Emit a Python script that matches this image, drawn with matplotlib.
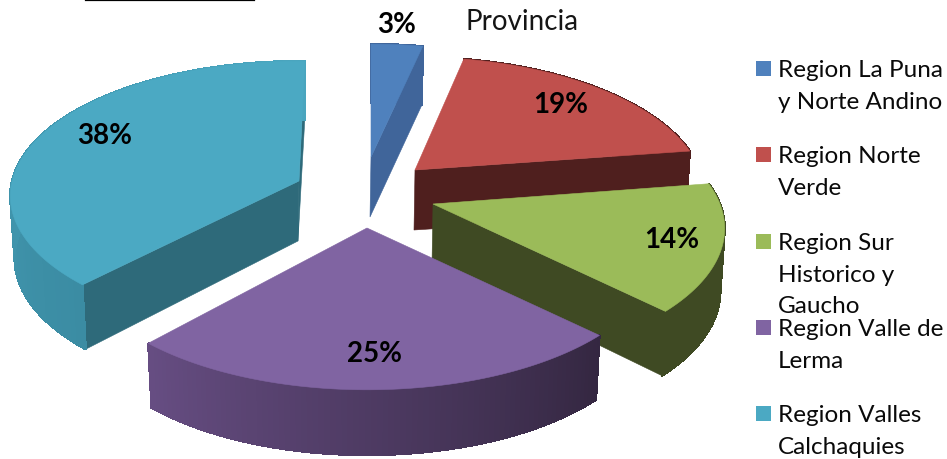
import numpy as np
import matplotlib
matplotlib.use("Agg")
import matplotlib.pyplot as plt
from matplotlib.patches import Polygon, Rectangle
from matplotlib.colors import to_rgb

categories = ["Region La Puna\ny Norte Andino", "Region Norte\nVerde",
              "Region Sur\nHistorico y\nGaucho", "Region Valle de\nLerma",
              "Region Valles\nCalchaquies"]
values = [3, 19, 14, 25, 38]
title_text = "Provincia"

top_colors = ["#4F81BD", "#C0504D", "#9BBB59", "#8064A2", "#4BA9C3"]
wall_colors = ["#40659A", "#4F1F1E", "#3F4A23", "#352843", "#2E6A7A"]
rim_from = ["#40659A", "#4F1F1E", "#3F4A23", "#342741", "#3B8CA3"]
rim_to = ["#40659A", "#4F1F1E", "#3F4A23", "#664D82", "#4AA5BE"]
centers = [(371, 158), (415, 171), (433, 205), (367, 229), (299, 182)]
label_pos = [(397, 25), (561, 105), (672, 240), (375, 354), (105, 136)]
legend_y = [62, 148, 235, 321, 407]
legend_label_y = [60, 146, 233, 319, 405]
# Which radial walls of each slice face the viewer: (start, end)
walls = [(False, True), (False, True), (False, True), (False, False), (True, True)]
draw_order = [0, 1, 4, 2, 3]
# Perspective correction of each slice's edges, in degrees: (start, end)
edge_shift = [(0, 1.3), (0.7, 1.6), (1, 4), (4, -0.5), (2.2, 1.3)]
slice_rx = [287, 285, 287, 287, 287]
slice_k = [0.178, 0.178, 0.178, 0.178, 0.11]

A = 133.0
fig = plt.figure(figsize=(9.47, 4.6), dpi=100)
ax = fig.add_axes([0, 0, 1, 1])
ax.set_xlim(0, 947)
ax.set_ylim(460, 0)
ax.axis("off")


def project(t, center, rx, k, drop=False):
    u, v = np.sin(t), np.cos(t)
    d = 1 + k * v
    x, y = rx * u / d, -A * v / d
    if drop:
        x, y = x * 0.985, y * 0.995 + 62 - 4 * v
    return np.column_stack([center[0] + x, center[1] + y])


edges = np.r_[0, np.cumsum(values)] / np.sum(values) * 360
for i in draw_order:
    c, rx, k = centers[i], slice_rx[i], slice_k[i]
    t0, t1 = np.radians(edges[i] + edge_shift[i][0]), np.radians(edges[i + 1] + edge_shift[i][1])
    ts = np.linspace(t0, t1, 90)
    apex = np.array([c], float)
    apex_low = apex + [-1, 60]
    top = project(ts, c, rx, k)
    low = project(ts, c, rx, k, True)
    if walls[i][0]:
        ax.add_patch(Polygon(np.vstack([apex, top[:1], low[:1], apex_low]), fc=wall_colors[i], ec=wall_colors[i], lw=.4))
    if walls[i][1]:
        ax.add_patch(Polygon(np.vstack([apex, top[-1:], low[-1:], apex_low]), fc=wall_colors[i], ec=wall_colors[i], lw=.4))
    c_a, c_b = np.array(to_rgb(rim_from[i])), np.array(to_rgb(rim_to[i]))
    ax.add_patch(Polygon(np.vstack([top, low[::-1]]), fc=rim_from[i], ec="none"))
    for j in range(len(ts) - 1):
        col = c_a + (c_b - c_a) * j / (len(ts) - 2)
        ax.add_patch(Polygon(np.vstack([top[j:j + 2], low[j:j + 2][::-1]]), fc=col, ec=col, lw=1, antialiased=False))
    ax.add_patch(Polygon(np.vstack([apex, top]), fc=top_colors[i], ec=top_colors[i], lw=.4))

for i, (cat, v) in enumerate(zip(categories, values)):
    ax.text(*label_pos[i], f"{v}%", family="Lato", weight="bold", fontsize=20, ha="center", va="center", color="black")
    ax.add_patch(Rectangle((756, legend_y[i]), 15, 15, fc=top_colors[i], ec="none"))
    ax.text(778, legend_label_y[i], cat, family="Lato", fontsize=17.5, ha="left", va="top",
            linespacing=1.62, color="#0a0a0a")

ax.text(466, 22, title_text, family="Lato", fontsize=20, ha="left", va="center", color="#151515")
ax.plot([86, 254], [0.5, 0.5], color="black", lw=1.6)

fig.savefig("out.png", dpi=100)
